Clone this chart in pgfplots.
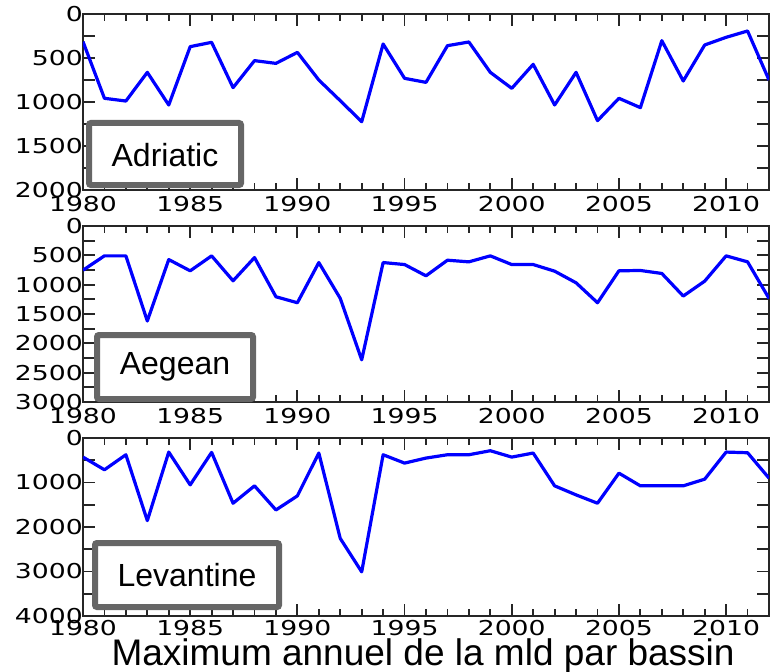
\documentclass[border=0pt]{standalone}
\usepackage{fontspec}
\setmainfont[FakeStretch=1.3]{DejaVu Sans}
\newfontfamily\arialfont{Liberation Sans}
\usepackage{pgfplots}
\pgfplotsset{compat=1.18}
\definecolor{boxgray}{HTML}{666666}

\pgfplotsset{
  mldpanel/.style={
    scale only axis,
    width=686pt,
    xmin=1980, xmax=2012,
    ymin=0, y dir=reverse,
    xtick={1980,1985,...,2015},
    minor x tick num=4,
    /pgf/number format/1000 sep={},
    /pgf/number format/assume math mode=true,
    axis line style={line width=2pt, black!85},
    tick style={line width=1.8pt, black!85},
    major tick length=12pt,
    minor tick length=7pt,
    tick label style={font=\fontsize{20.5}{20.5}\selectfont},
    xticklabel style={yshift=-3pt},
    yticklabel style={inner sep=0pt, xshift=0pt},
  },
  mldline/.style={blue, line width=3.2pt, line join=round},
}

\begin{document}
\begin{tikzpicture}
\useasboundingbox (-83pt,14pt) rectangle (692pt,-657pt);

% Adriatic
\begin{axis}[mldpanel, at={(0pt,0pt)}, anchor=north west,
  height=176pt, ymax=2000,
  ytick={0,250,...,2000},
  yticklabels={0,,500,,1000,,1500,,2000}]
\addplot[mldline] coordinates {
(1980,314)(1981,958)(1982,989)(1983,663)(1984,1034)(1985,371)(1986,322)
(1987,837)(1988,530)(1989,561)(1990,436)(1991,750)(1992,985)(1993,1224)
(1994,341)(1995,731)(1996,777)(1997,360)(1998,318)(1999,663)(2000,845)
(2001,572)(2002,1034)(2003,663)(2004,1212)(2005,958)(2006,1064)(2007,303)
(2008,761)(2009,352)(2010,265)(2011,193)(2012,750)};
\end{axis}

% Aegean
\begin{axis}[mldpanel, at={(0pt,-212pt)}, anchor=north west,
  height=176pt, ymax=3000,
  ytick={0,250,...,3000},
  yticklabels={0,,500,,1000,,1500,,2000,,2500,,3000}]
\addplot[mldline] coordinates {
(1980,753)(1981,509)(1982,509)(1983,1619)(1984,572)(1985,764)(1986,509)
(1987,934)(1988,538)(1989,1206)(1990,1308)(1991,623)(1992,1234)(1993,2281)
(1994,623)(1995,657)(1996,849)(1997,583)(1998,611)(1999,509)(2000,657)
(2001,657)(2002,770)(2003,968)(2004,1308)(2005,764)(2006,758)(2007,809)
(2008,1194)(2009,940)(2010,509)(2011,611)(2012,1234)};
\end{axis}

% Levantine
\begin{axis}[mldpanel, at={(0pt,-424pt)}, anchor=north west,
  height=178pt, ymax=4000,
  ytick={0,500,...,4000},
  yticklabels={0,,1000,,2000,,3000,,4000},
  xticklabel style={yshift=2pt}]
\addplot[mldline] coordinates {
(1980,429)(1981,714)(1982,376)(1983,1857)(1984,316)(1985,1053)(1986,323)
(1987,1466)(1988,1075)(1989,1617)(1990,1301)(1991,338)(1992,2256)(1993,3008)
(1994,376)(1995,564)(1996,451)(1997,376)(1998,376)(1999,286)(2000,429)
(2001,338)(2002,1075)(2003,1278)(2004,1466)(2005,790)(2006,1075)(2007,1075)
(2008,1075)(2009,925)(2010,316)(2011,331)(2012,902)};
\end{axis}

% basin boxes
\draw[boxgray, line width=6pt, rounded corners=2pt, fill=white]
  (6pt,-109pt) rectangle (158pt,-171pt);
\node at (82pt,-141pt) {\arialfont\fontsize{32}{32}\selectfont Adriatic};
\draw[boxgray, line width=6pt, rounded corners=2pt, fill=white]
  (14pt,-321pt) rectangle (170pt,-385pt);
\node at (92pt,-353pt) {\arialfont\fontsize{32}{32}\selectfont Aegean};
\draw[boxgray, line width=6pt, rounded corners=2pt, fill=white]
  (12pt,-529pt) rectangle (196pt,-593pt);
\node at (104pt,-561pt) {\arialfont\fontsize{32}{32}\selectfont Levantine};

\node[anchor=base west] at (25pt,-651pt)
  {\arialfont\fontsize{37}{37}\selectfont Maximum annuel de la mld par bassin};
\end{tikzpicture}
\end{document}
